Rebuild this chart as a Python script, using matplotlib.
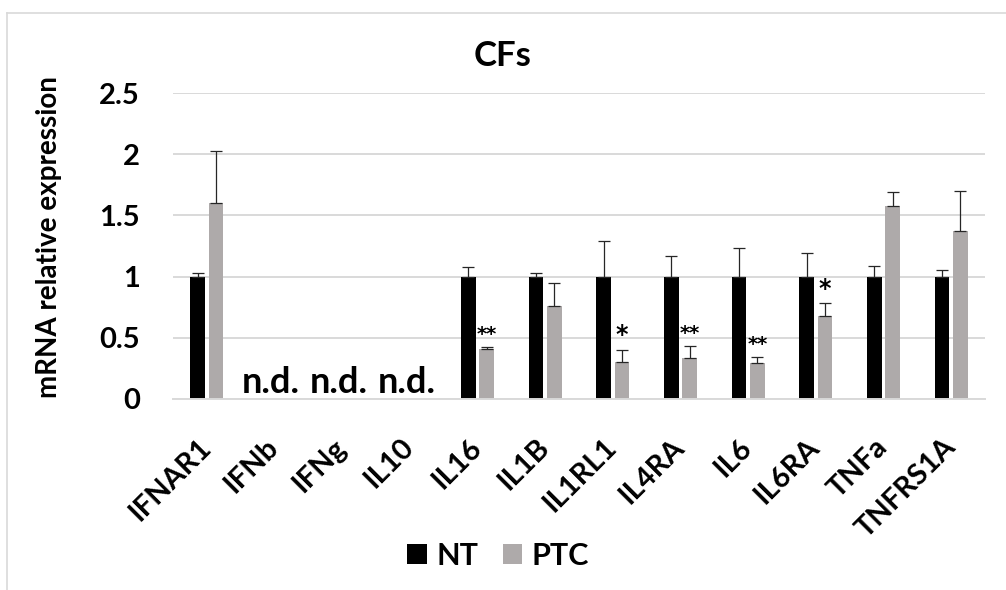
"""
    CFs: mRNA relative expression, NT vs PTC.
"""

import numpy as np
import matplotlib
matplotlib.use("Agg")
import matplotlib.pyplot as plt
from matplotlib.lines import Line2D

GENES = ["IFNAR1", "IFNb", "IFNg", "IL10", "IL16", "IL1B", "IL1RL1",
         "IL4RA", "IL6", "IL6RA", "TNFa", "TNFRS1A"]
# nan = not detected
NT = [1, np.nan, np.nan, np.nan, 1, 1, 1, 1, 1, 1, 1, 1]
NT_ERR = [0.03, 0, 0, 0, 0.075, 0.025, 0.29, 0.165, 0.23, 0.19, 0.09, 0.055]
PTC = [1.60, np.nan, np.nan, np.nan, 0.41, 0.76, 0.30, 0.33, 0.29, 0.68, 1.58, 1.37]
PTC_ERR = [0.43, 0, 0, 0, 0.015, 0.19, 0.10, 0.105, 0.055, 0.10, 0.11, 0.33]
STARS = ["", "", "", "", "**", "", "*", "**", "**", "*", "", ""]
ND_LABEL = "n.d."

plt.rcParams['font.family'] = ['Lato', 'DejaVu Sans']
plt.rcParams['font.weight'] = 'bold'

fig = plt.figure(figsize=(10.06, 5.90), dpi=100)
ax = fig.add_axes([173 / 1006, 191.3 / 590, 812 / 1006, 305.4 / 590])

x = np.arange(len(GENES))
width = 0.215
off = 0.137
err_kw = dict(ecolor="#262626", elinewidth=0.9, capsize=4, capthick=0.9)

ax.bar(x - off, np.nan_to_num(NT), width, color="black", label="NT", zorder=2)
ax.bar(x + off, np.nan_to_num(PTC), width, color="#aeaaaa", label="PTC", zorder=2)
for i in range(len(GENES)):
    if np.isnan(NT[i]):
        ax.text(x[i] - 0.05, 0, ND_LABEL, ha="center", va="bottom", fontsize=26,
                fontweight="bold")
        continue
    ax.errorbar(x[i] - off, NT[i], yerr=[[0], [NT_ERR[i]]], fmt="none", zorder=3, **err_kw)
    ax.errorbar(x[i] + off, PTC[i], yerr=[[0], [PTC_ERR[i]]], fmt="none", zorder=3, **err_kw)
    if STARS[i]:
        fs = 17 if STARS[i] == "*" else 14
        ax.annotate(STARS[i], (x[i] + off, PTC[i] + PTC_ERR[i]), xytext=(0, 2),
                    textcoords="offset points", ha="center", va="bottom",
                    fontsize=fs, fontweight="bold", family="DejaVu Sans")

ax.set_xlim(-0.5, len(GENES) - 0.5)
ax.set_ylim(0, 2.5)
ax.set_yticks([0, 0.5, 1, 1.5, 2, 2.5])
ax.set_yticklabels(["0", "0.5", "1", "1.5", "2", "2.5"])
ax.set_xticks(x)
ax.set_xticklabels(GENES, rotation=45, ha="right", va="center", rotation_mode="anchor")
ax.tick_params(axis="both", length=0, labelsize=21)
ax.tick_params(axis="y", pad=24)
ax.tick_params(axis="x", pad=32)
ax.grid(axis="y", color="#d9d9d9", linewidth=1.4, zorder=0)
ax.set_axisbelow(True)
for s in ["top", "right", "left"]:
    ax.spines[s].set_visible(False)
ax.spines["bottom"].set_color("#d9d9d9")
ax.spines["bottom"].set_linewidth(1.4)

ax.set_ylabel("mRNA relative expression", fontsize=20, fontweight="bold")
ax.yaxis.set_label_coords(-0.137, 0.53)

fig.text(0.5, 1 - 56 / 590, "CFs", ha="center", va="center", fontsize=25,
         fontweight="bold")
fig.legend(loc="center", bbox_to_anchor=(498 / 1006, 1 - 556 / 590), ncol=2,
           frameon=False, fontsize=22, handlelength=0.65, handleheight=0.65,
           handletextpad=0.3, columnspacing=0.8)

# chart frame (only top and left edges are visible)
fig.add_artist(Line2D([7 / 1006, 7 / 1006], [0, 1 - 13 / 590], color="#d9d9d9", lw=1.2))
fig.add_artist(Line2D([7 / 1006, 1], [1 - 13 / 590, 1 - 13 / 590], color="#d9d9d9", lw=1.2))

fig.savefig("out.png", dpi=100)
